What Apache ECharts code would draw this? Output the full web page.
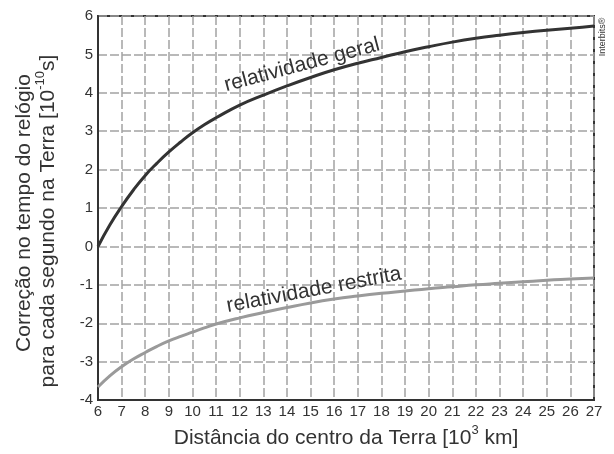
<!DOCTYPE html>
<html>
<head>
<meta charset="utf-8">
<title>Correção relativística</title>
<script src="https://cdn.jsdelivr.net/npm/echarts@6/dist/echarts.min.js"></script>
<style>
  html, body { margin: 0; padding: 0; background: #fff; }
  #chart { width: 614px; height: 454px; }
</style>
</head>
<body>
<div id="chart"></div>
<script>
// distância do centro da Terra (10^3 km)
const distancias = [6, 6.5, 7, 7.5, 8, 8.5, 9, 9.5, 10, 10.5, 11, 12, 13, 14, 15, 16, 17, 18, 19, 20, 21, 22, 23, 24, 25, 26, 27]
// correção (10^-10 s)
const relatividadeGeral = [0, 0.56, 1.04, 1.47, 1.85, 2.17, 2.46, 2.72, 2.96, 3.17, 3.35, 3.68, 3.94, 4.18, 4.40, 4.60, 4.77, 4.92, 5.07, 5.20, 5.32, 5.42, 5.50, 5.57, 5.63, 5.68, 5.74]
const relatividadeRestrita = [-3.66, -3.37, -3.13, -2.93, -2.76, -2.60, -2.46, -2.34, -2.23, -2.12, -2.02, -1.86, -1.72, -1.59, -1.47, -1.37, -1.29, -1.22, -1.16, -1.10, -1.05, -1.00, -0.96, -0.92, -0.88, -0.85, -0.82]

const FONT = '"Liberation Sans", Arial, sans-serif'

const chart = echarts.init(document.getElementById('chart'))

const toPairs = (values) => distancias.map((d, i) => [d, values[i]])

const gridLine = {
  show: true,
  lineStyle: { color: '#a3a3a3', width: 1.5, type: [9, 3] }
}

const titleRich = {
  a: { fontSize: 21, fill: '#333', color: '#333', fontFamily: FONT, verticalAlign: 'bottom' },
  sup: { fontSize: 13, fill: '#333', color: '#333', fontFamily: FONT, verticalAlign: 'bottom', padding: [0, 0, 12, 0] }
}

const option = {
  animation: false,
  backgroundColor: '#fff',
  grid: {
    left: 98,
    right: 20,
    top: 16,
    bottom: 52,
    show: true,
    borderColor: '#333',
    borderWidth: 2,
    containLabel: false
  },
  xAxis: {
    type: 'value',
    min: 6,
    max: 27,
    interval: 1,
    axisLine: { show: true, onZero: false, lineStyle: { color: '#333', width: 2 } },
    axisTick: { show: false },
    axisLabel: { color: '#333', fontSize: 15, fontFamily: FONT, margin: 4 },
    splitLine: gridLine,
    name: '{a|Distância do centro da Terra [10}{sup|3}{a| km]}',
    nameLocation: 'middle',
    nameGap: 21,
    nameTextStyle: { fontFamily: FONT, rich: titleRich }
  },
  yAxis: {
    type: 'value',
    min: -4,
    max: 6,
    interval: 1,
    axisLine: { show: true, onZero: false, lineStyle: { color: '#333', width: 2 } },
    axisTick: { show: false },
    axisLabel: { color: '#333', fontSize: 15, fontFamily: FONT, margin: 5 },
    splitLine: gridLine
  },
  series: [
    {
      name: 'relatividade geral',
      type: 'line',
      data: toPairs(relatividadeGeral),
      smooth: true,
      showSymbol: false,
      lineStyle: { color: '#333', width: 3 },
      z: 3
    },
    {
      name: 'relatividade restrita',
      type: 'line',
      data: toPairs(relatividadeRestrita),
      smooth: true,
      showSymbol: false,
      lineStyle: { color: '#9a9a9a', width: 3 },
      z: 3
    }
  ],
  graphic: [
    // título do eixo y, duas linhas
    {
      type: 'text',
      x: 24,
      y: 213,
      rotation: Math.PI / 2,
      style: {
        text: 'Correção no tempo do relógio',
        fontSize: 21,
        fontFamily: FONT,
        fill: '#333',
        align: 'center',
        verticalAlign: 'middle'
      }
    },
    {
      type: 'text',
      x: 46,
      y: 221,
      rotation: Math.PI / 2,
      style: {
        text: '{a|para cada segundo na Terra [10}{sup|-10}{a|s]}',
        rich: titleRich,
        align: 'center',
        verticalAlign: 'middle'
      }
    },
    {
      type: 'text',
      x: 302,
      y: 65,
      rotation: 15 * Math.PI / 180,
      style: {
        text: 'relatividade geral',
        fontSize: 21,
        fontFamily: FONT,
        fill: '#333',
        align: 'center',
        verticalAlign: 'middle'
      },
      z: 10
    },
    {
      type: 'text',
      x: 314,
      y: 290,
      rotation: 10.6 * Math.PI / 180,
      style: {
        text: 'relatividade restrita',
        fontSize: 21,
        fontFamily: FONT,
        fill: '#333',
        align: 'center',
        verticalAlign: 'middle'
      },
      z: 10
    },
    {
      type: 'text',
      x: 603,
      y: 37,
      rotation: Math.PI / 2,
      style: {
        text: 'Interbits®',
        fontSize: 9,
        fontFamily: FONT,
        fill: '#333',
        align: 'center',
        verticalAlign: 'middle'
      }
    }
  ]
}

chart.setOption(option)
</script>
</body>
</html>
